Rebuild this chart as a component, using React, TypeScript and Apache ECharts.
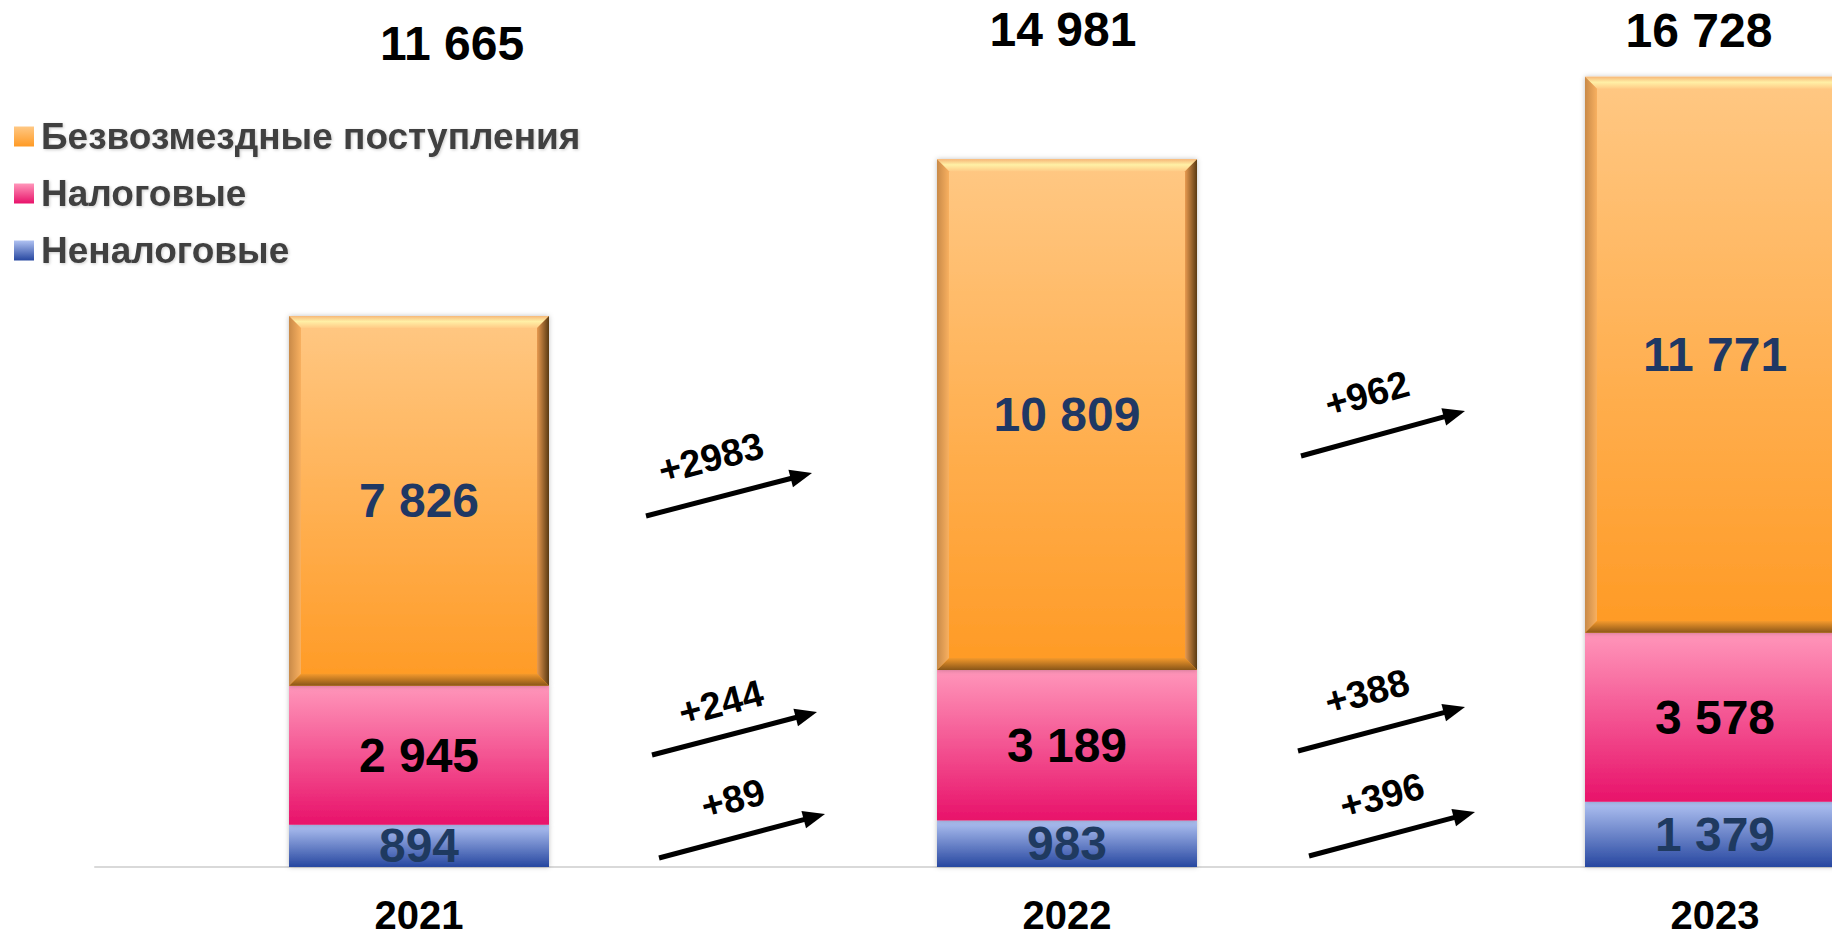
import React, { useEffect, useRef } from "react";
import * as echarts from "echarts";

// ---- data ----
const years = ["2021", "2022", "2023"];
const seriesNames = ["Безвозмездные поступления", "Налоговые", "Неналоговые"];
const nonTax = [894, 983, 1379];
const tax = [2945, 3189, 3578];
const grants = [7826, 10809, 11771];
const grantChange = [2983, 962];
const taxChange = [244, 388];
const nonTaxChange = [89, 396];

// ---- layout constants (pixels) ----
const FONT = 'Arial, "Liberation Sans", sans-serif';
const BAR_W = 260;
const BEVEL = 12;
const totalOffsets = [
  { dx: 33, y: 43 },
  { dx: -4, y: 29 },
  { dx: -16, y: 30 },
];
// arrows: [gap][row] row0 = grants, row1 = tax, row2 = nontax
const arrowLayout = [
  [
    { x0: 646, y0: 516, x1: 812, y1: 473, lx: 711, ly: 458 },
    { x0: 652, y0: 755, x1: 817, y1: 712, lx: 721, ly: 703 },
    { x0: 659, y0: 858, x1: 825, y1: 814, lx: 733, ly: 799 },
  ],
  [
    { x0: 1301, y0: 456, x1: 1465, y1: 411, lx: 1367, ly: 394 },
    { x0: 1298, y0: 751, x1: 1465, y1: 707, lx: 1367, ly: 692 },
    { x0: 1309, y0: 856, x1: 1475, y1: 812, lx: 1382, ly: 796 },
  ],
];

const fmt = (n: number) => String(n).replace(/\B(?=(\d{3})+(?!\d))/g, " ");

const vGrad = (top: string, bottom: string) =>
  new echarts.graphic.LinearGradient(0, 0, 0, 1, [
    { offset: 0, color: top },
    { offset: 1, color: bottom },
  ]);

export default function App() {
  const ref = useRef<HTMLDivElement>(null);

  useEffect(() => {
    const el = ref.current;
    if (!el) return;
    const chart = echarts.init(el, null, { renderer: "svg" });

    const labelBase = {
      show: true,
      position: "inside",
      fontFamily: FONT,
      fontWeight: "bold",
      fontSize: 48,
      formatter: (p: any) => fmt(p.value),
    };
    const shadow = {
      shadowBlur: 5,
      shadowColor: "rgba(0,0,0,0.25)",
    };

    const bevelData = years.map((_, i) => [i, nonTax[i] + tax[i], nonTax[i] + tax[i] + grants[i]]);

    const option: any = {
      animation: false,
      backgroundColor: "#ffffff",
      legend: {
        data: seriesNames,
        orient: "vertical",
        left: 9,
        top: 113,
        itemWidth: 20,
        itemHeight: 20,
        itemGap: 20,
        icon: "rect",
        selectedMode: false,
        textStyle: {
          fontFamily: FONT,
          fontWeight: "bold",
          fontSize: 37,
          color: "#404040",
          padding: [0, 0, 0, 2],
          textShadowColor: "rgba(0,0,0,0.2)",
          textShadowBlur: 3,
          textShadowOffsetX: 1,
          textShadowOffsetY: 1,
        },
      },
      grid: {
        left: 95,
        width: 1944,
        top: 64,
        bottom: 69,
        outerBoundsMode: "none",
        containLabel: false,
      },
      xAxis: {
        type: "category",
        data: years,
        axisLine: { show: true, lineStyle: { color: "#D9D9D9", width: 2 } },
        axisTick: { show: false },
        axisLabel: {
          fontFamily: FONT,
          fontWeight: "bold",
          fontSize: 40,
          lineHeight: 34,
          color: "#000000",
          margin: 31,
        },
      },
      yAxis: {
        type: "value",
        min: 0,
        max: 17000,
        show: false,
        splitLine: { show: false },
      },
      series: [
        {
          name: "Неналоговые",
          type: "bar",
          stack: "total",
          barWidth: BAR_W,
          data: nonTax,
          itemStyle: { color: vGrad("#B0C2F2", "#2747A0"), ...shadow },
          label: { ...labelBase, color: "#1F3A60" },
        },
        {
          name: "Налоговые",
          type: "bar",
          stack: "total",
          barWidth: BAR_W,
          data: tax,
          itemStyle: { color: vGrad("#FF96BA", "#E8126A"), ...shadow },
          label: { ...labelBase, color: "#000000" },
        },
        {
          name: "Безвозмездные поступления",
          type: "bar",
          stack: "total",
          barWidth: BAR_W,
          data: grants,
          itemStyle: { color: vGrad("#FFC884", "#FF9A24"), ...shadow },
          label: { ...labelBase, color: "#1F3864" },
          z: 2,
        },
        {
          name: "bevel",
          type: "custom",
          silent: true,
          z: 3,
          data: bevelData,
          encode: { x: 0, y: [1, 2] },
          renderItem: (_params: any, api: any) => {
            const i = api.value(0);
            const pt = api.coord([i, api.value(2)]);
            const pb = api.coord([i, api.value(1)]);
            const x0 = pt[0] - BAR_W / 2;
            const x1 = pt[0] + BAR_W / 2;
            const y0 = pt[1];
            const y1 = pb[1];
            const b = BEVEL;
            return {
              type: "group",
              children: [
                {
                  type: "polygon",
                  shape: { points: [[x0, y0], [x1, y0], [x1 - b, y0 + b], [x0 + b, y0 + b]] },
                  style: {
                    fill: new echarts.graphic.LinearGradient(0, 0, 0, 1, [
                      { offset: 0, color: "#F7B878" },
                      { offset: 0.45, color: "#FFF0A6" },
                      { offset: 1, color: "#FFCB86" },
                    ]),
                  },
                },
                {
                  type: "polygon",
                  shape: { points: [[x1, y0], [x1, y1], [x1 - b, y1 - b], [x1 - b, y0 + b]] },
                  style: {
                    fill: new echarts.graphic.LinearGradient(0, 0, 1, 0, [
                      { offset: 0, color: "#E89A50" },
                      { offset: 1, color: "#5A3A12" },
                    ]),
                  },
                },
                {
                  type: "polygon",
                  shape: { points: [[x0, y1], [x1, y1], [x1 - b, y1 - b], [x0 + b, y1 - b]] },
                  style: {
                    fill: new echarts.graphic.LinearGradient(0, 0, 0, 1, [
                      { offset: 0, color: "#F59A2C" },
                      { offset: 1, color: "#8A5618" },
                    ]),
                  },
                },
                {
                  type: "polygon",
                  shape: { points: [[x0, y0], [x0 + b, y0 + b], [x0 + b, y1 - b], [x0, y1]] },
                  style: {
                    fill: new echarts.graphic.LinearGradient(0, 0, 1, 0, [
                      { offset: 0, color: "#C98A48" },
                      { offset: 1, color: "#F8B060" },
                    ]),
                  },
                },
              ],
            };
          },
        },
      ],
    };

    chart.setOption(option);

    const graphics: any[] = [];
    years.forEach((y, i) => {
      const total = nonTax[i] + tax[i] + grants[i];
      const cx = chart.convertToPixel({ xAxisIndex: 0 }, y) as number;
      graphics.push({
        type: "text",
        x: cx + totalOffsets[i].dx,
        y: totalOffsets[i].y,
        style: {
          text: fmt(total),
          fontFamily: FONT,
          fontWeight: "bold",
          fontSize: 48,
          fill: "#000000",
          align: "center",
          verticalAlign: "middle",
        },
      });
    });

    const changes = [grantChange, taxChange, nonTaxChange];
    arrowLayout.forEach((gap, g) => {
      gap.forEach((a, row) => {
        const dx = a.x1 - a.x0;
        const dy = a.y1 - a.y0;
        const len = Math.sqrt(dx * dx + dy * dy);
        const ux = dx / len;
        const uy = dy / len;
        const px = -uy;
        const py = ux;
        const headL = 22;
        const headW = 9;
        const bx = a.x1 - ux * headL;
        const by = a.y1 - uy * headL;
        graphics.push({
          type: "line",
          shape: { x1: a.x0, y1: a.y0, x2: bx + ux * 2, y2: by + uy * 2 },
          style: { stroke: "#000000", lineWidth: 5 },
        });
        graphics.push({
          type: "polygon",
          shape: {
            points: [
              [a.x1, a.y1],
              [bx + px * headW, by + py * headW],
              [bx - px * headW, by - py * headW],
            ],
          },
          style: { fill: "#000000" },
        });
        graphics.push({
          type: "text",
          x: a.lx,
          y: a.ly,
          rotation: Math.atan2(-dy, dx),
          style: {
            text: "+" + changes[row][g],
            fontFamily: FONT,
            fontWeight: "bold",
            fontSize: 38,
            fill: "#000000",
            align: "center",
            verticalAlign: "middle",
          },
        });
      });
    });

    chart.setOption({ graphic: graphics });

    return () => {
      chart.dispose();
    };
  }, []);

  return (
    <div
      ref={ref}
      style={{ position: "fixed", left: 0, top: 0, width: 1832, height: 936 }}
    />
  );
}
